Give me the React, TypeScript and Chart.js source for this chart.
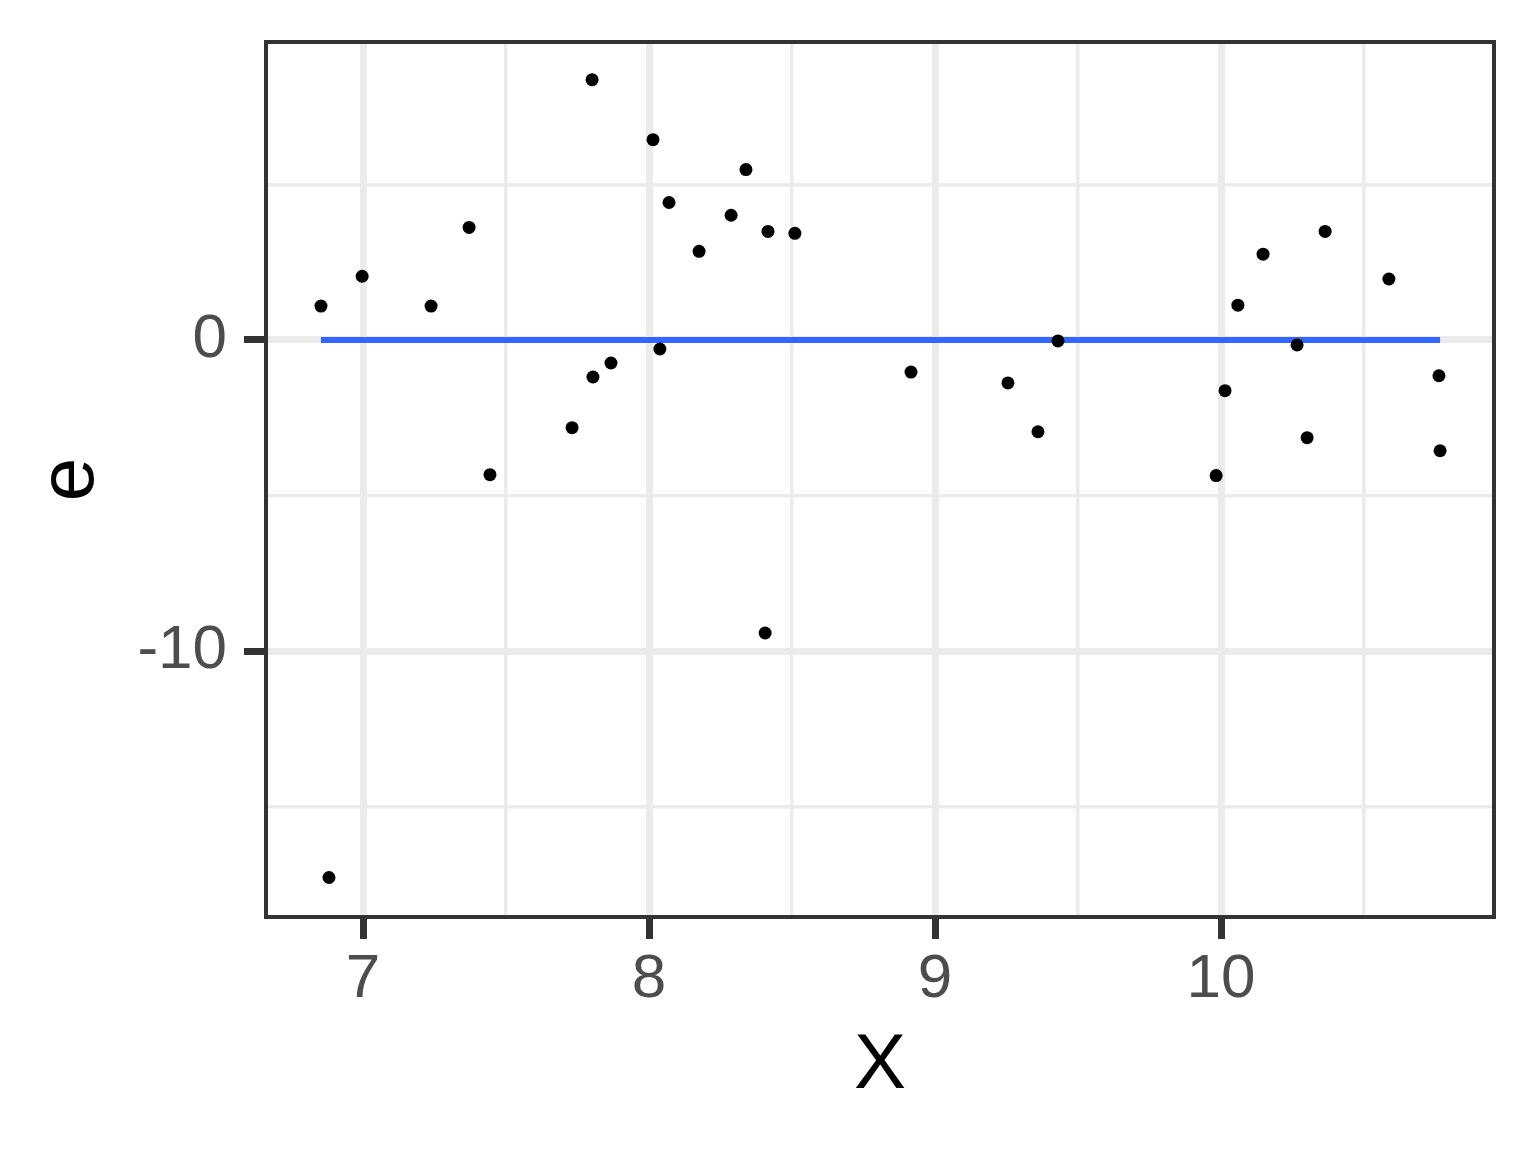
import React, { useEffect, useRef } from "react";
import { Chart, registerables } from "chart.js";

Chart.register(...registerables);

// Data (residuals e vs X)
const residualX = [
  6.853, 6.997, 6.881, 7.238, 7.371, 7.444, 7.801, 7.731, 7.804, 7.867,
  8.014, 8.038, 8.070, 8.175, 8.287, 8.339, 8.416, 8.406, 8.510, 8.916,
  9.255, 9.360, 9.430, 9.983, 10.014, 10.059, 10.147, 10.266, 10.301, 10.364,
  10.587, 10.762, 10.766,
];
const residualE = [
  1.09, 2.05, -17.28, 1.09, 3.62, -4.33, 8.37, -2.82, -1.19, -0.74,
  6.44, -0.29, 4.42, 2.85, 4.01, 5.48, 3.49, -9.42, 3.43, -1.03,
  -1.38, -2.95, -0.03, -4.36, -1.63, 1.12, 2.76, -0.16, -3.14, 3.49,
  1.96, -1.15, -3.56,
];
const fitE = [0, 0];

const xMajorTicks = [7, 8, 9, 10];
const xMinorTicks = [7.5, 8.5, 9.5, 10.5];
const yMajorTicks = [-10, 0];
const yMinorTicks = [-15, -5, 5];

const X_MIN = 6.6608;
const X_MAX = 10.9545;
const Y_MIN = -18.55;
const Y_MAX = 9.58;

const FONT = "'Liberation Sans', Arial, Helvetica, sans-serif";

export default function App() {
  const canvasRef = useRef<HTMLCanvasElement | null>(null);

  useEffect(() => {
    const canvas = canvasRef.current;
    if (!canvas) return;

    const xFitMin = Math.min(...residualX);
    const xFitMax = Math.max(...residualX);

    const points = residualX.map((x, i) => ({ x, y: residualE[i] }));
    const fitLine = [
      { x: xFitMin, y: fitE[0] },
      { x: xFitMax, y: fitE[1] },
    ];

    const xAll = [...xMajorTicks, ...xMinorTicks].sort((a, b) => a - b);
    const yAll = [...yMajorTicks, ...yMinorTicks].sort((a, b) => a - b);

    const isMajorX = (v: number) => xMajorTicks.includes(v);
    const isMajorY = (v: number) => yMajorTicks.includes(v);

    const panelBorder = {
      id: "panelBorder",
      afterDraw(chart: any) {
        const { ctx, chartArea } = chart;
        const { left, top, right, bottom } = chartArea;
        ctx.save();
        ctx.strokeStyle = "#333333";
        ctx.lineWidth = 4;
        ctx.strokeRect(left, top, right - left, bottom - top);
        ctx.restore();
      },
    };

    const chart = new Chart(canvas, {
      type: "scatter",
      data: {
        datasets: [
          {
            label: "points",
            data: points,
            backgroundColor: "#000000",
            borderColor: "#000000",
            borderWidth: 0,
            pointRadius: 6.5,
            pointHoverRadius: 6.5,
          },
          {
            label: "fit",
            data: fitLine,
            showLine: true,
            borderColor: "#3366FF",
            backgroundColor: "#3366FF",
            borderWidth: 6,
            pointRadius: 0,
            pointHoverRadius: 0,
          } as any,
        ],
      },
      options: {
        responsive: false,
        animation: false,
        devicePixelRatio: 1,
        layout: { padding: { left: 0, top: 42, right: 42, bottom: 0 } },
        plugins: {
          legend: { display: false },
          tooltip: { enabled: false },
          title: { display: false },
        },
        scales: {
          x: {
            type: "linear",
            position: "bottom",
            min: X_MIN,
            max: X_MAX,
            afterBuildTicks: (scale: any) => {
              scale.ticks = xAll.map((v) => ({ value: v }));
            },
            afterFit: (scale: any) => {
              scale.height = 1152 - 917;
              scale.paddingLeft = 0;
              scale.paddingRight = 0;
              scale.paddingTop = 0;
              scale.paddingBottom = 0;
            },
            border: { display: false },
            grid: {
              color: "#EBEBEB",
              lineWidth: (ctx: any) => (ctx.tick && isMajorX(ctx.tick.value) ? 7 : 3.5),
              drawTicks: true,
              tickLength: 22,
              tickColor: (ctx: any) =>
                ctx.tick && isMajorX(ctx.tick.value) ? "#333333" : "rgba(0,0,0,0)",
              tickWidth: 7,
            },
            ticks: {
              autoSkip: false,
              maxRotation: 0,
              minRotation: 0,
              padding: 4,
              color: "#4D4D4D",
              font: { family: FONT, size: 62 },
              callback: (value: any) => (isMajorX(Number(value)) ? String(value) : ""),
            },
            title: {
              display: true,
              text: "X",
              color: "#000000",
              font: { family: FONT, size: 78 },
              padding: { top: 0, bottom: 39 },
            },
          },
          y: {
            type: "linear",
            position: "left",
            min: Y_MIN,
            max: Y_MAX,
            afterBuildTicks: (scale: any) => {
              scale.ticks = yAll.map((v) => ({ value: v }));
            },
            afterFit: (scale: any) => {
              scale.width = 266;
              scale.paddingLeft = 0;
              scale.paddingRight = 0;
              scale.paddingTop = 0;
              scale.paddingBottom = 0;
            },
            border: { display: false },
            grid: {
              color: "#EBEBEB",
              lineWidth: (ctx: any) => (ctx.tick && isMajorY(ctx.tick.value) ? 7 : 3.5),
              drawTicks: true,
              tickLength: 22,
              tickColor: (ctx: any) =>
                ctx.tick && isMajorY(ctx.tick.value) ? "#333333" : "rgba(0,0,0,0)",
              tickWidth: 7,
            },
            ticks: {
              autoSkip: false,
              padding: 17,
              color: "#4D4D4D",
              font: { family: FONT, size: 62 },
              callback: (value: any) => (isMajorY(Number(value)) ? String(value) : ""),
            },
            title: {
              display: true,
              text: "e",
              color: "#000000",
              font: { family: FONT, size: 78 },
              padding: { top: 25, bottom: 0 },
            },
          },
        },
      },
      plugins: [panelBorder],
    });

    return () => {
      chart.destroy();
    };
  }, []);

  return (
    <div
      style={{
        position: "absolute",
        left: 0,
        top: 0,
        width: 1536,
        height: 1152,
        background: "#ffffff",
      }}
    >
      <canvas ref={canvasRef} width={1536} height={1152} style={{ width: 1536, height: 1152, display: "block" }} />
    </div>
  );
}
